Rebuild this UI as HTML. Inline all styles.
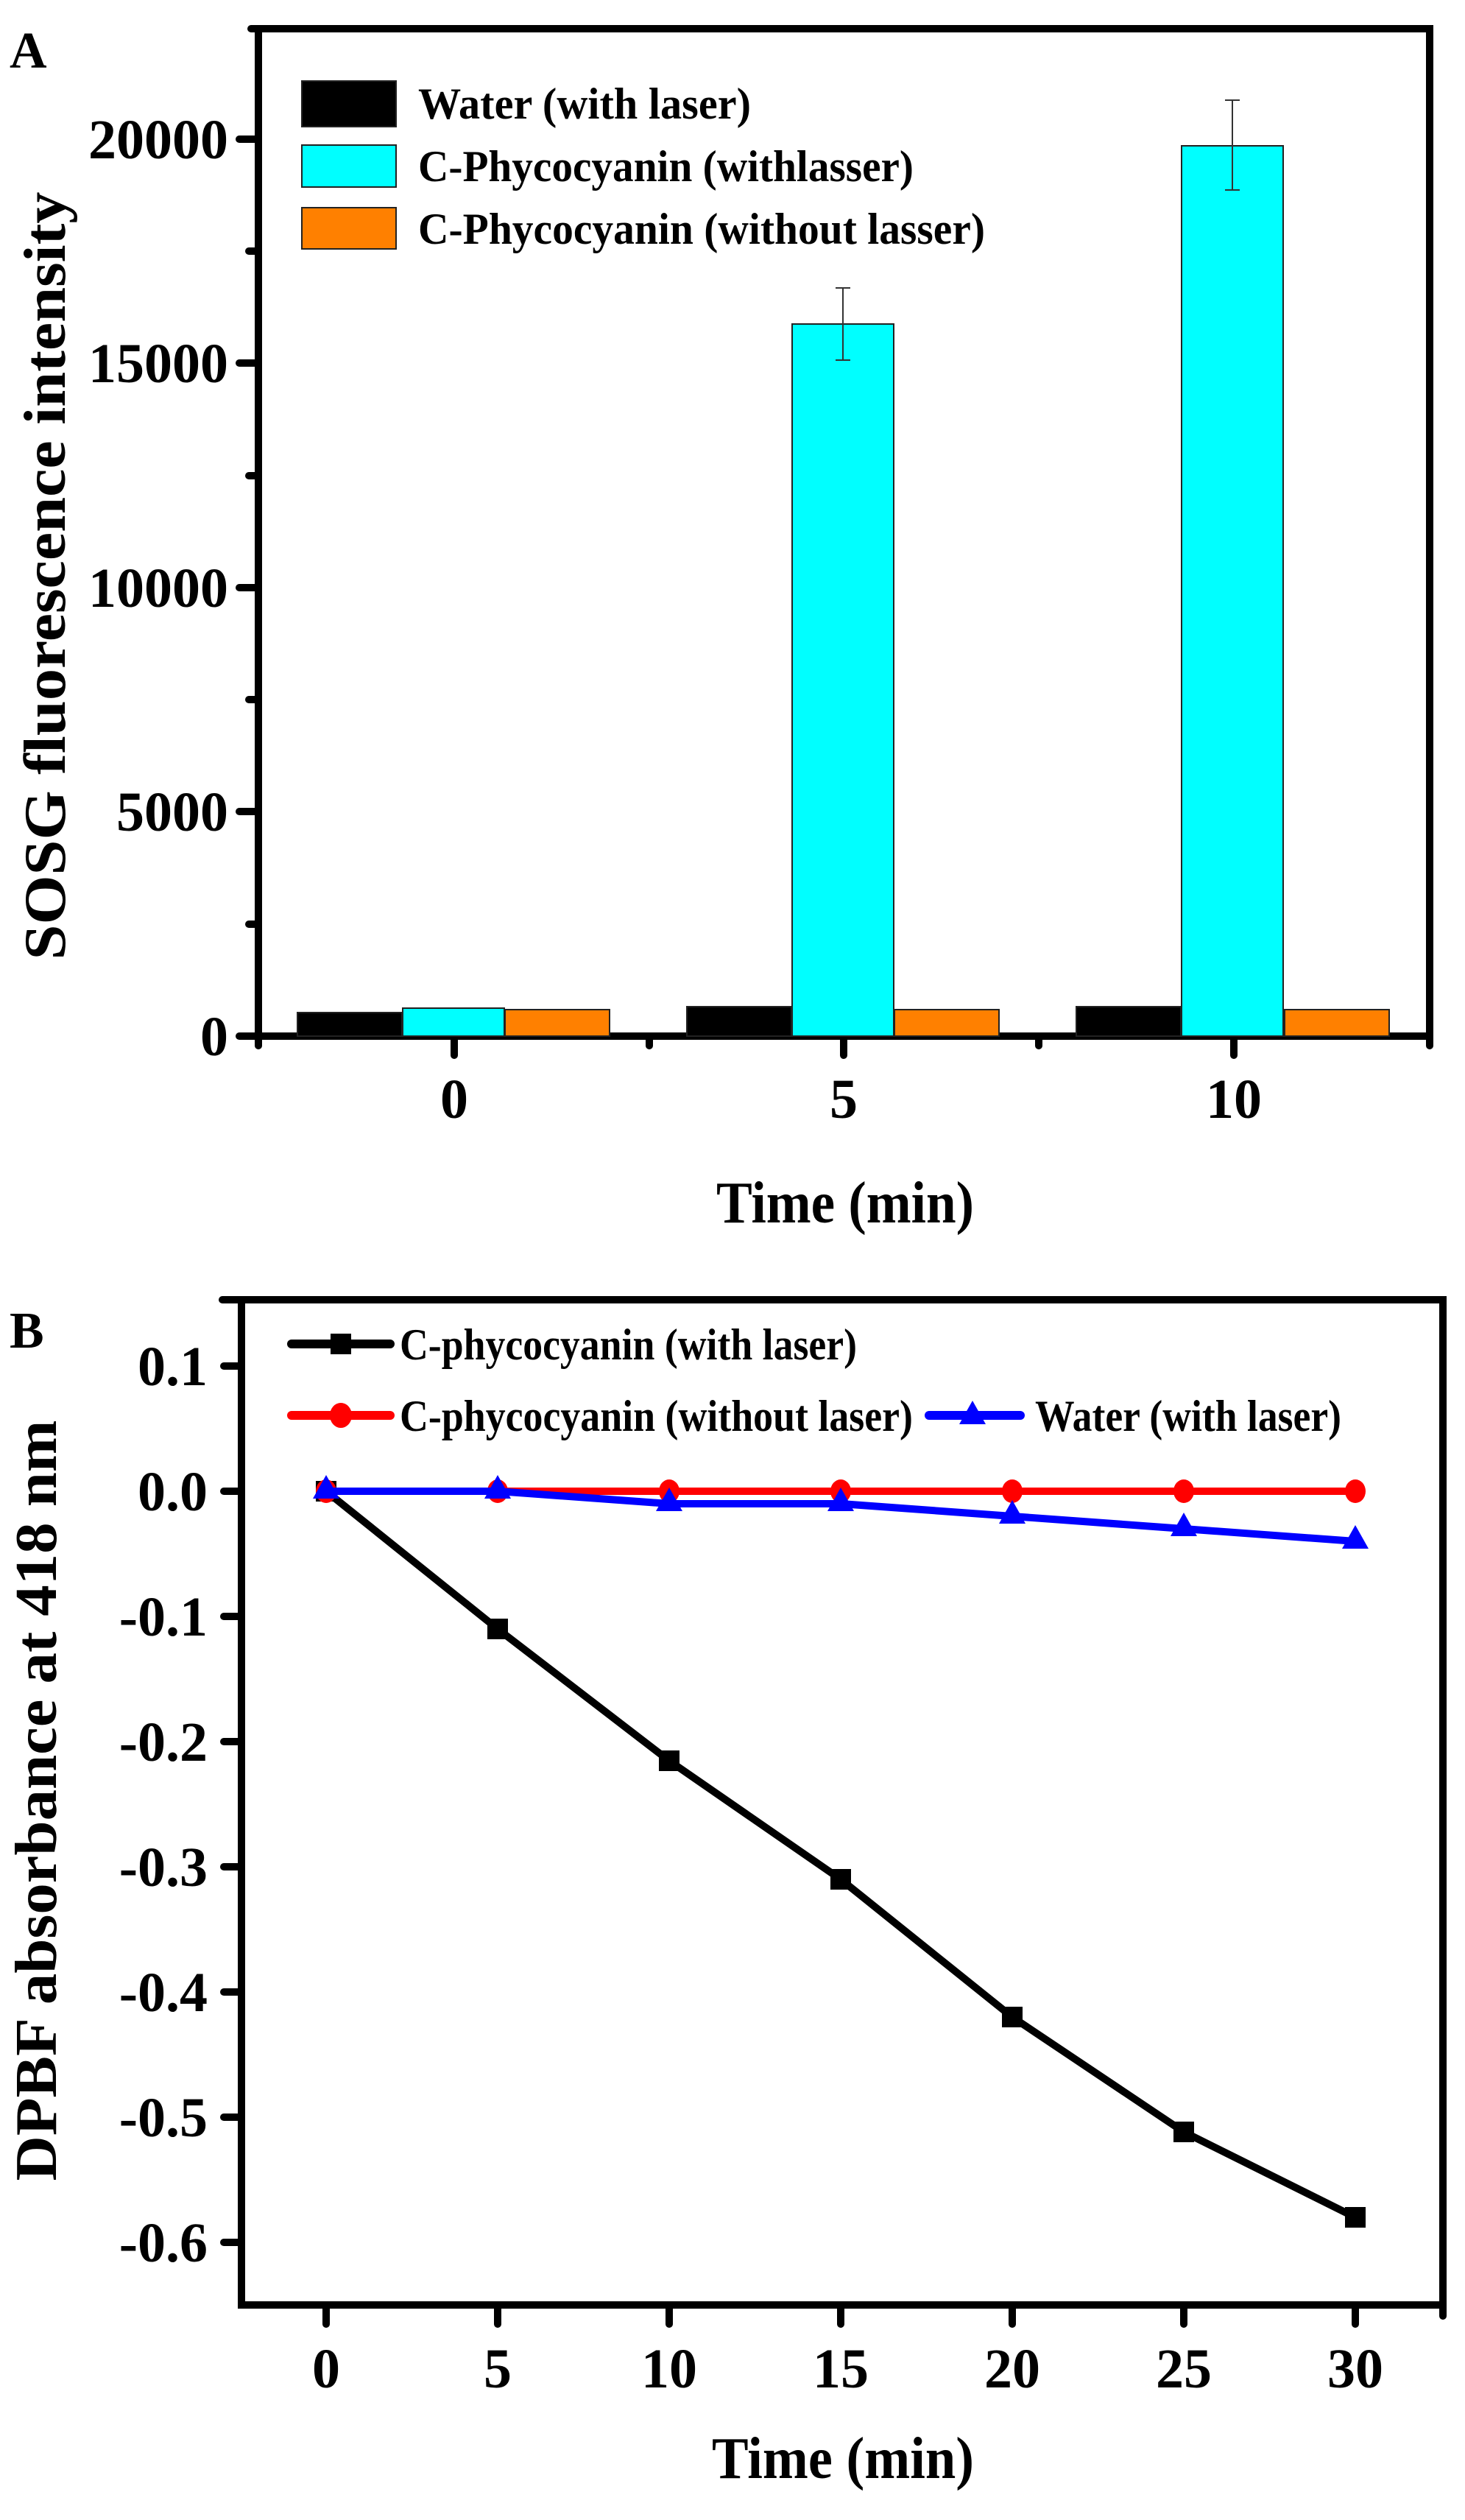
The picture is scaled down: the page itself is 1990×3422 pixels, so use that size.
<!DOCTYPE html>
<html><head><meta charset="utf-8"><style>body{margin:0;background:#fff}svg{display:block}text{font-family:"Liberation Serif",serif;font-weight:bold}</style></head>
<body>
<svg width="1990" height="3422" viewBox="0 0 1990 3422" xmlns="http://www.w3.org/2000/svg" font-family="'Liberation Serif', serif" font-weight="bold">
<!-- Panel A -->
<text x="13" y="92" font-size="70">A</text>
<g stroke="#000" stroke-width="10" fill="none" stroke-linecap="round">
<rect x="351" y="39" width="1591" height="1368"/>
<line x1="325" y1="1407" x2="351" y2="1407"/>
<line x1="338" y1="1255" x2="351" y2="1255"/>
<line x1="325" y1="1102" x2="351" y2="1102"/>
<line x1="338" y1="950" x2="351" y2="950"/>
<line x1="325" y1="798" x2="351" y2="798"/>
<line x1="338" y1="646" x2="351" y2="646"/>
<line x1="325" y1="493" x2="351" y2="493"/>
<line x1="338" y1="341" x2="351" y2="341"/>
<line x1="325" y1="189" x2="351" y2="189"/>
<line x1="341" y1="39" x2="351" y2="39"/>
<line x1="351" y1="1407" x2="351" y2="1420"/>
<line x1="617" y1="1407" x2="617" y2="1433"/>
<line x1="882" y1="1407" x2="882" y2="1420"/>
<line x1="1146" y1="1407" x2="1146" y2="1433"/>
<line x1="1411" y1="1407" x2="1411" y2="1420"/>
<line x1="1676" y1="1407" x2="1676" y2="1433"/>
<line x1="1942" y1="1407" x2="1942" y2="1420"/>
</g>
<g font-size="76" text-anchor="end">
<text x="310" y="1433">0</text>
<text x="310" y="1128">5000</text>
<text x="310" y="824">10000</text>
<text x="310" y="519">15000</text>
<text x="310" y="215">20000</text>
</g>
<g font-size="76" text-anchor="middle">
<text x="617" y="1518">0</text>
<text x="1146" y="1518">5</text>
<text x="1676" y="1518">10</text>
</g>
<text x="1148" y="1660" font-size="80" text-anchor="middle" textLength="350" lengthAdjust="spacingAndGlyphs">Time (min)</text>
<text transform="translate(88,782) rotate(-90)" font-size="80" text-anchor="middle" textLength="1043" lengthAdjust="spacingAndGlyphs">SOSG fluorescence intensity</text>
<!-- bars -->
<g stroke="#222" stroke-width="2">
<rect x="404" y="1375" width="142" height="32" fill="#000"/>
<rect x="547" y="1369" width="138" height="38" fill="#00ffff"/>
<rect x="686" y="1371" width="142" height="36" fill="#ff8000"/>
<rect x="933" y="1367" width="142" height="40" fill="#000"/>
<rect x="1076" y="440" width="138" height="967" fill="#00ffff"/>
<rect x="1215" y="1371" width="142" height="36" fill="#ff8000"/>
<rect x="1462" y="1367" width="142" height="40" fill="#000"/>
<rect x="1605" y="198" width="138" height="1209" fill="#00ffff"/>
<rect x="1745" y="1371" width="142" height="36" fill="#ff8000"/>
</g>
<g stroke="#333" stroke-width="2">
<line x1="1145" y1="391" x2="1145" y2="489"/><line x1="1135" y1="391" x2="1155" y2="391"/><line x1="1135" y1="489" x2="1155" y2="489"/>
<line x1="1674" y1="136" x2="1674" y2="258"/><line x1="1664" y1="136" x2="1684" y2="136"/><line x1="1664" y1="258" x2="1684" y2="258"/>
</g>
<!-- legend A -->
<g stroke="#222" stroke-width="2">
<rect x="410" y="110" width="128" height="62" fill="#000"/>
<rect x="410" y="197" width="128" height="57" fill="#00ffff"/>
<rect x="410" y="282" width="128" height="56" fill="#ff8000"/>
</g>
<g font-size="60">
<text x="568" y="161" textLength="452" lengthAdjust="spacingAndGlyphs">Water (with laser)</text>
<text x="568" y="246" textLength="673" lengthAdjust="spacingAndGlyphs">C-Phycocyanin (withlasser)</text>
<text x="568" y="331" textLength="770" lengthAdjust="spacingAndGlyphs">C-Phycocyanin (without lasser)</text>
</g>

<!-- Panel B -->
<text x="13" y="1830" font-size="70">B</text>
<g stroke="#000" stroke-width="10" fill="none" stroke-linecap="round">
<rect x="328" y="1765" width="1632" height="1365"/>
<line x1="302" y1="1765" x2="328" y2="1765"/>
<line x1="304" y1="1855" x2="328" y2="1855"/>
<line x1="304" y1="2025" x2="328" y2="2025"/>
<line x1="304" y1="2195" x2="328" y2="2195"/>
<line x1="304" y1="2365" x2="328" y2="2365"/>
<line x1="304" y1="2535" x2="328" y2="2535"/>
<line x1="304" y1="2705" x2="328" y2="2705"/>
<line x1="304" y1="2875" x2="328" y2="2875"/>
<line x1="304" y1="3045" x2="328" y2="3045"/>
<line x1="443" y1="3130" x2="443" y2="3156"/>
<line x1="676" y1="3130" x2="676" y2="3156"/>
<line x1="909" y1="3130" x2="909" y2="3156"/>
<line x1="1142" y1="3130" x2="1142" y2="3156"/>
<line x1="1375" y1="3130" x2="1375" y2="3156"/>
<line x1="1608" y1="3130" x2="1608" y2="3156"/>
<line x1="1841" y1="3130" x2="1841" y2="3156"/>
<line x1="1960" y1="3130" x2="1960" y2="3145"/>
</g>
<g font-size="76" text-anchor="end">
<text x="282" y="1881">0.1</text>
<text x="282" y="2051">0.0</text>
<text x="282" y="2221">-0.1</text>
<text x="282" y="2391">-0.2</text>
<text x="282" y="2561">-0.3</text>
<text x="282" y="2731">-0.4</text>
<text x="282" y="2901">-0.5</text>
<text x="282" y="3071">-0.6</text>
</g>
<g font-size="76" text-anchor="middle">
<text x="443" y="3242">0</text>
<text x="676" y="3242">5</text>
<text x="909" y="3242">10</text>
<text x="1142" y="3242">15</text>
<text x="1375" y="3242">20</text>
<text x="1608" y="3242">25</text>
<text x="1841" y="3242">30</text>
</g>
<text x="1145" y="3365" font-size="80" text-anchor="middle" textLength="356" lengthAdjust="spacingAndGlyphs">Time (min)</text>
<text transform="translate(76,2445) rotate(-90)" font-size="80" text-anchor="middle" textLength="1033" lengthAdjust="spacingAndGlyphs">DPBF absorbance at 418 nm</text>
<!-- series -->
<polyline fill="none" stroke="#000" stroke-width="10" points="443,2025 676,2212 909,2391 1142,2552 1375,2739 1608,2895 1841,3011"/>
<g fill="#000">
<rect x="429" y="2011" width="28" height="28"/><rect x="662" y="2198" width="28" height="28"/><rect x="895" y="2377" width="28" height="28"/><rect x="1128" y="2538" width="28" height="28"/><rect x="1361" y="2725" width="28" height="28"/><rect x="1594" y="2881" width="28" height="28"/><rect x="1827" y="2997" width="28" height="28"/>
</g>
<polyline fill="none" stroke="#ff0000" stroke-width="10" points="443,2025 1841,2025"/>
<g fill="#ff0000">
<ellipse cx="443" cy="2025" rx="14" ry="16"/><ellipse cx="676" cy="2025" rx="14" ry="16"/><ellipse cx="909" cy="2025" rx="14" ry="16"/><ellipse cx="1142" cy="2025" rx="14" ry="16"/><ellipse cx="1375" cy="2025" rx="14" ry="16"/><ellipse cx="1608" cy="2025" rx="14" ry="16"/><ellipse cx="1841" cy="2025" rx="14" ry="16"/>
</g>
<polyline fill="none" stroke="#0000ff" stroke-width="10" points="443,2025 676,2025 909,2042 1142,2042 1375,2059 1608,2076 1841,2093"/>
<g fill="#0000ff">
<polygon points="443,2003 461,2035 425,2035"/><polygon points="676,2003 694,2035 658,2035"/><polygon points="909,2020 927,2052 891,2052"/><polygon points="1142,2020 1160,2052 1124,2052"/><polygon points="1375,2037 1393,2069 1357,2069"/><polygon points="1608,2054 1626,2086 1590,2086"/><polygon points="1841,2071 1859,2103 1823,2103"/>
</g>
<!-- legend B -->
<line x1="396" y1="1825" x2="530" y2="1825" stroke="#000" stroke-width="12" stroke-linecap="round"/>
<rect x="449" y="1811" width="28" height="28" fill="#000"/>
<line x1="396" y1="1922" x2="530" y2="1922" stroke="#ff0000" stroke-width="12" stroke-linecap="round"/>
<ellipse cx="463" cy="1922" rx="15" ry="17" fill="#ff0000"/>
<line x1="1262" y1="1922" x2="1386" y2="1922" stroke="#0000ff" stroke-width="12" stroke-linecap="round"/>
<polygon points="1321,1902 1339,1934 1303,1934" fill="#0000ff"/>
<g font-size="60">
<text x="543" y="1846" textLength="621" lengthAdjust="spacingAndGlyphs">C-phycocyanin (with laser)</text>
<text x="543" y="1943" textLength="697" lengthAdjust="spacingAndGlyphs">C-phycocyanin (without laser)</text>
<text x="1406" y="1943" textLength="416" lengthAdjust="spacingAndGlyphs">Water (with laser)</text>
</g>
</svg>
</body></html>
